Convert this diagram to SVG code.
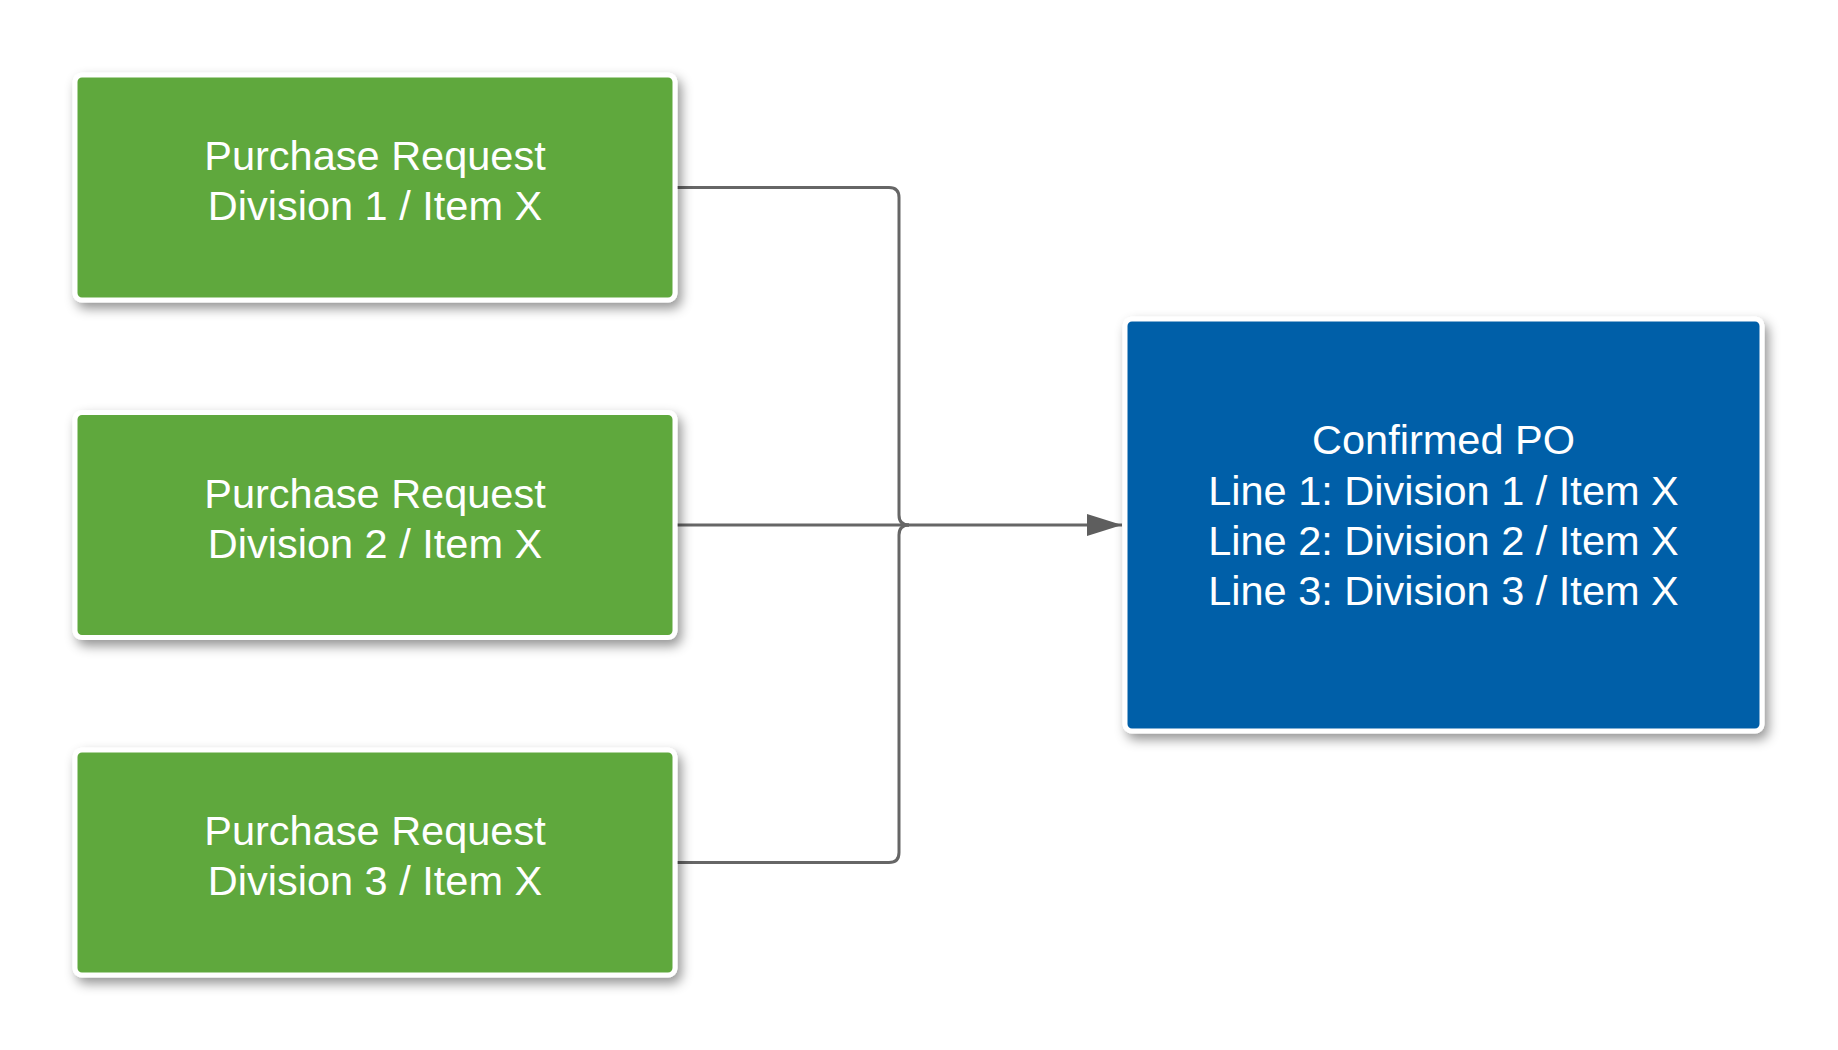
<svg xmlns="http://www.w3.org/2000/svg" width="1838" height="1050" viewBox="0 0 1838 1050">
  <style>
    .box { stroke: #ffffff; stroke-width: 5; }
    .green { fill: #5fa83c; }
    .blue { fill: #035ea8; }
    .label { font-family: "Liberation Sans", Arial, sans-serif; font-size: 41.5px; fill: #ffffff; text-anchor: middle; }
    .conn { fill: none; stroke: #666666; stroke-width: 3; }
  </style>
  <defs>
    <filter id="shadow" x="-10%" y="-15%" width="125%" height="140%">
      <feGaussianBlur in="SourceAlpha" stdDeviation="6" result="b"/>
      <feOffset in="b" dx="4" dy="6" result="o"/>
      <feFlood flood-color="#000000" flood-opacity="0.42"/>
      <feComposite in2="o" operator="in" result="s"/>
      <feMerge>
        <feMergeNode in="s"/>
        <feMergeNode in="SourceGraphic"/>
      </feMerge>
    </filter>
    <marker id="arrow" markerWidth="36" markerHeight="22" refX="35" refY="11" orient="auto" markerUnits="userSpaceOnUse">
      <path d="M0,0 L35,11 L0,22 Z" fill="#5e5e5e"/>
    </marker>
  </defs>
  <rect width="1838" height="1050" fill="#ffffff"/>

  <g id="connectors">
    <path class="conn" d="M677,187.5 H889 Q899,187.5 899,197.5 V515 Q899,525 909,525"/>
    <path class="conn" d="M677,862.5 H889 Q899,862.5 899,852.5 V535 Q899,525 909,525"/>
    <path class="conn" d="M677,525 H1122" marker-end="url(#arrow)"/>
  </g>

  <g id="pr1">
    <rect class="box green" x="75" y="75" width="600" height="225" rx="7" filter="url(#shadow)"/>
    <text class="label" x="375" y="170">Purchase Request</text>
    <text class="label" x="375" y="220">Division 1 / Item X</text>
  </g>

  <g id="pr2">
    <rect class="box green" x="75" y="412.5" width="600" height="225" rx="7" filter="url(#shadow)"/>
    <text class="label" x="375" y="507.5">Purchase Request</text>
    <text class="label" x="375" y="557.5">Division 2 / Item X</text>
  </g>

  <g id="pr3">
    <rect class="box green" x="75" y="750" width="600" height="225" rx="7" filter="url(#shadow)"/>
    <text class="label" x="375" y="845">Purchase Request</text>
    <text class="label" x="375" y="895">Division 3 / Item X</text>
  </g>

  <g id="po">
    <rect class="box blue" x="1125" y="319" width="637" height="412" rx="7" filter="url(#shadow)"/>
    <text class="label" x="1443.5" y="454">Confirmed PO</text>
    <text class="label" x="1443.5" y="505">Line 1: Division 1 / Item X</text>
    <text class="label" x="1443.5" y="555">Line 2: Division 2 / Item X</text>
    <text class="label" x="1443.5" y="605">Line 3: Division 3 / Item X</text>
  </g>
</svg>
